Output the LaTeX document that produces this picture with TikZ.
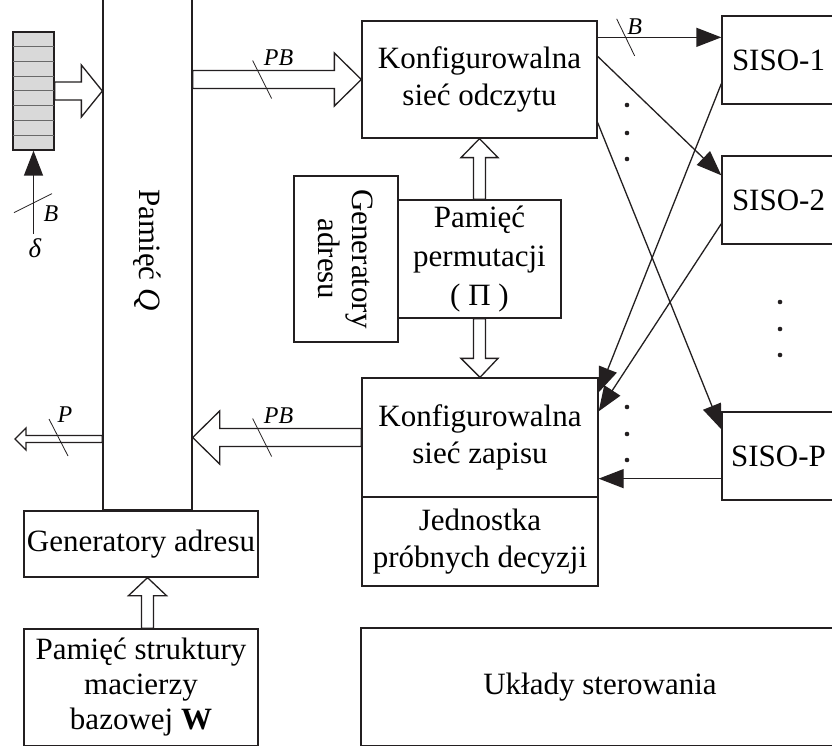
\documentclass[tikz,border=0pt]{standalone}
\usepackage{fontspec}
\setmainfont{Liberation Serif}
\usetikzlibrary{calc,arrows.meta}

\definecolor{ink}{RGB}{35,31,32}
\definecolor{cellfill}{RGB}{217,217,217}
\definecolor{cellrule}{RGB}{105,105,105}

\newcommand{\boxfont}{\fontsize{31}{37}\selectfont}
\newcommand{\lblfont}{\fontsize{24}{28}\selectfont\itshape}

\tikzset{
  box/.style={draw=ink, line width=1.3pt, inner sep=0pt, align=center, font=\boxfont},
  fat/.style={draw=ink, fill=white, line width=1.3pt, line join=miter},
  arr/.style={draw=ink, line width=1.3pt, -{Triangle[length=25pt,width=19pt]}},
  tick/.style={draw=ink, line width=0.8pt},
  lbl/.style={font=\lblfont, inner sep=0pt},
  dot/.style={fill=ink},
}

% hollow bus arrow, horizontal: from #1 to #2, shaft half width #3,
% head half width #4, head length #5
\newcommand{\hfat}[5]{%
  \draw[fat] let \p1=(#1), \p2=(#2), \p3=($(#2)!#5!(#1)$) in
    (\x1,\y1-#3) -- (\x3,\y1-#3) -- (\x3,\y1-#4) -- (\x2,\y2)
    -- (\x3,\y1+#4) -- (\x3,\y1+#3) -- (\x1,\y1+#3) -- cycle;}
% the same, vertical
\newcommand{\vfat}[5]{%
  \draw[fat] let \p1=(#1), \p2=(#2), \p3=($(#2)!#5!(#1)$) in
    (\x1-#3,\y1) -- (\x1-#3,\y3) -- (\x1-#4,\y3) -- (\x2,\y2)
    -- (\x1+#4,\y3) -- (\x1+#3,\y3) -- (\x1+#3,\y1) -- cycle;}

\begin{document}
\begin{tikzpicture}[x=1pt,y=-1pt]
\useasboundingbox (0,0) rectangle (832,746);
\fill[white] (0,0) rectangle (832,746);
\begin{scope}
\clip (0,0) rectangle (832,746);

% input shift register
\node[box, fill=cellfill, minimum width=41pt, minimum height=118pt] (reg) at (33.5,91) {};
\foreach \i in {1,...,7}
  \draw[cellrule, line width=1pt] ($(reg.north west)!\i/8!(reg.south west)$) -- ($(reg.north east)!\i/8!(reg.south east)$);
\draw[ink, line width=1.3pt] (reg.north west) rectangle (reg.south east);

% memory Q and its address generators
\node[box, minimum width=89pt, minimum height=520pt] (q) at (147.5,250) {};
\node[rotate=-90, font=\boxfont] (qlabel) at (q.center) {Pamięć \textit{Q}};
\node[box, minimum width=234pt, minimum height=66pt] (gen1) at (141,544) {Generatory adresu};
\node[box, minimum width=234pt, minimum height=117pt, font=\fontsize{31}{35}\selectfont] (struct) at (141,687.5)
  {Pamięć struktury\\macierzy\\bazowej \textbf{W}};

% permutation networks
\node[box, minimum width=235pt, minimum height=117pt] (rd) at (479.5,79.5) {Konfigurowalna\\sieć odczytu};
\node[box, minimum width=163pt, minimum height=118pt, font=\fontsize{31}{39}\selectfont] (perm) at (479.5,259)
  {Pamięć\\permutacji\\( Π )};
\node[box, minimum width=104pt, minimum height=166pt] (gen2) at (346,259) {};
\node[rotate=-90, font=\fontsize{31}{34}\selectfont, align=center] (gen2label) at (gen2.center) {Generatory\\adresu};
\node[box, minimum width=236pt, minimum height=119pt] (wr) at (480,437.5) {Konfigurowalna\\sieć zapisu};
\node[box, minimum width=236pt, minimum height=89pt] (dec) at (480,541.5) {Jednostka\\próbnych decyzji};
\node[box, minimum width=478pt, minimum height=118pt] (ctrl) at (600,687) {Układy sterowania};

% SISO decoders
\node[box, minimum width=113pt, minimum height=88pt] (s1) at (778.5,60) {SISO-1};
\node[box, minimum width=113pt, minimum height=88pt] (s2) at (778.5,200) {SISO-2};
\node[box, minimum width=113pt, minimum height=88pt] (sp) at (778.5,456) {SISO-P};

% hollow bus arrows
\hfat{reg.east}{q.west |- reg.east}{9pt}{26pt}{21pt}
\hfat{q.east |- rd.west}{rd.west}{9pt}{26.5pt}{27pt}
\hfat{wr.west}{q.east |- wr.west}{9pt}{26.5pt}{27pt}
\coordinate (pout) at (15,439);
\hfat{q.west |- pout}{pout}{3.5pt}{11pt}{11pt}
\vfat{perm.north}{rd.south}{6pt}{18.5pt}{19pt}
\vfat{perm.south}{wr.north}{6pt}{18.5pt}{19pt}
\vfat{q.center |- struct.north}{q.center |- gen1.south}{6pt}{19pt}{18pt}

% bus width marks
\coordinate (tpb1) at ($(q.east |- rd.west)+(69.5,0)$);
\draw[tick] ($(tpb1)+(-9.5,-19)$) -- ($(tpb1)+(9.5,19)$);
\node[lbl] (lpb1) at ($(tpb1)+(16.5,-22)$) {PB};
\coordinate (tpb2) at ($(q.east |- wr.west)+(69.5,0)$);
\draw[tick] ($(tpb2)+(-9.5,-19)$) -- ($(tpb2)+(9.5,19)$);
\node[lbl] (lpb2) at ($(tpb2)+(16.5,-22)$) {PB};
\coordinate (tp) at (58.5,437.5);
\draw[tick] ($(tp)+(-9.5,-18.5)$) -- ($(tp)+(9.5,18.5)$);
\node[lbl] (lp) at ($(tp)+(6.5,-22.5)$) {P};

% soft input
\coordinate (din) at ($(reg.south)+(0,83)$);
\draw[arr] (din) -- (reg.south);
\coordinate (td) at ($(reg.south)+(0,52.5)$);
\draw[tick] ($(td)+(-19.5,9.5)$) -- ($(td)+(18.5,-9.5)$);
\node[lbl] (lb1) at (51,214) {B};
\node[lbl, font=\fontsize{27}{30}\selectfont\itshape] (ldelta) at (35,248) {δ};

% connections to and from the decoders
\coordinate (a1) at ($(rd.north east)+(0,17)$);
\draw[arr] (a1) -- (a1 -| s1.west);
\coordinate (tb) at ($(a1)+(28,0)$);
\draw[tick] ($(tb)+(-9,-18.5)$) -- ($(tb)+(9,18.5)$);
\node[lbl] (lb2) at ($(tb)+(9,-11)$) {B};
\coordinate (a2) at ($(rd.north east)+(0,36)$);
\coordinate (a2e) at ($(s2.north west)+(0,20)$);
\draw[arr] (a2) -- (a2e);
\coordinate (a3) at ($(rd.south east)+(0,-16)$);
\coordinate (a3e) at ($(sp.north west)+(0,18)$);
\draw[arr] (a3) -- (a3e);
\coordinate (b1) at ($(s1.south west)+(0,-21)$);
\coordinate (b1e) at ($(wr.north east)+(0,15)$);
\draw[arr] (b1) -- (b1e);
\coordinate (b2) at ($(s2.south west)+(0,-21)$);
\coordinate (b2e) at ($(wr.north east)+(0,34)$);
\draw[arr] (b2) -- (b2e);
\coordinate (b3) at ($(sp.south west)+(0,-22)$);
\draw[arr] (b3) -- (b3 -| wr.east);

% ellipsis dots
\foreach \yy in {105,133,159} \fill[dot] (627,\yy) circle (2.3pt);
\foreach \yy in {407,434,460} \fill[dot] (627,\yy) circle (2.3pt);
\foreach \yy in {302,329,355} \fill[dot] (780,\yy) circle (2.3pt);

\end{scope}
\end{tikzpicture}
\end{document}
